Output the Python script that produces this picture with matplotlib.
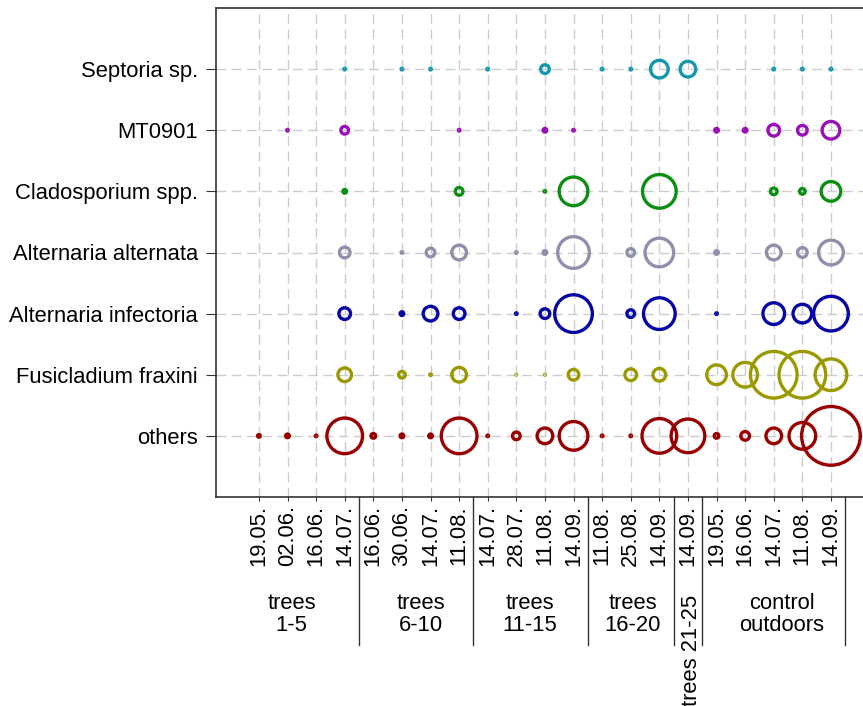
import matplotlib
matplotlib.use("Agg")
from matplotlib import pyplot as plt
import numpy as np

plt.rcParams['font.family'] = ['Liberation Sans', 'DejaVu Sans']

# sampling dates (x axis), grouped by tree set
dates = ["19.05.", "02.06.", "16.06.", "14.07.",
         "16.06.", "30.06.", "14.07.", "11.08.",
         "14.07.", "28.07.", "11.08.", "14.09.",
         "11.08.", "25.08.", "14.09.",
         "14.09.",
         "19.05.", "16.06.", "14.07.", "11.08.", "14.09."]
group_sizes = [4, 4, 4, 3, 1, 5]
group_labels = ["trees\n1-5", "trees\n6-10", "trees\n11-15", "trees\n16-20", "trees 21-25", "control\noutdoors"]

species = ["Septoria sp.", "MT0901", "Cladosporium spp.", "Alternaria alternata",
           "Alternaria infectoria", "Fusicladium fraxini", "others"]
colors = ["#1497ae", "#9a10b8", "#0a8f12", "#9090ab", "#0505a8", "#9a9a00", "#990000"]

N = None
# circle sizes (one value per sampling date, None = not found)
septoria = [N, N, N, 5, N, 5, 5, N, 5, N, 12, N, 5, 5, 21, 19, N, N, 5, 5, 5]
mt0901 = [N, 5, N, 11, N, N, N, 5, N, N, 7, 5, N, N, N, N, 7, 7, 15, 13, 21]
cladosporium = [N, N, N, 7, N, N, N, 11, N, N, 5, 32, N, N, 37, N, N, N, 10, 9, 23]
alt_alternata = [N, N, N, 14, N, 5, 12, 18, N, 5, 7, 35, N, 11, 32, N, 7, N, 18, 13, 28]
alt_infectoria = [N, N, N, 15, N, 7, 18, 15, N, 5, 13, 41, N, 11, 35, N, 5, N, 25, 22, 38]
fusicladium = [N, N, N, 17, N, 10, 5, 18, N, 4, 4, 14, N, 15, 16, N, 23, 28, 50, 50, 35]
others = [6, 7, 5, 39, 8, 7, 7, 39, 5, 11, 19, 32, 5, 5, 38, 37, 8, 12, 19, 30, 62]

series = [septoria, mt0901, cladosporium, alt_alternata, alt_infectoria, fusicladium, others]

dpi = 100
lw = 2.4  # ring width in points
lw_px = lw * dpi / 72

fig = plt.figure(figsize=(8.63, 7.06), dpi=dpi)
ax = fig.add_axes([216 / 863, 209 / 706, 647 / 863, 489 / 706])

x = np.arange(len(dates))
for k, (vals, col) in enumerate(zip(series, colors)):
    yrow = len(species) - k
    xs, ss, fc = [], [], []
    for i, v in enumerate(vals):
        if v is None:
            continue
        d = max(v - lw_px, 0.8) * 72 / dpi
        xs.append(x[i])
        ss.append(d ** 2)
        # small circles close up into dots
        fc.append(col if v < 2 * lw_px + 1 else "none")
    ax.scatter(xs, [yrow] * len(xs), s=ss, facecolors=fc, edgecolors=col,
               linewidths=lw, zorder=3, clip_on=False)

ax.set_xlim(-1.5, 21.12)
ax.set_ylim(0, 8)
ax.set_xticks(x)
ax.set_xticklabels(dates, rotation=90, fontsize=15.8, va="top")
ax.set_yticks(np.arange(len(species), 0, -1))
ax.set_yticklabels(species, fontsize=15.8)
ax.tick_params(axis="x", length=3, pad=3, color="#333333")
ax.tick_params(axis="y", length=7, pad=6, color="#333333")
ax.grid(True, color="#cccccc", linestyle=(0, (7, 4)), linewidth=1.0, zorder=0)
ax.set_axisbelow(True)
for side in ["left", "bottom", "top"]:
    ax.spines[side].set_color("#333333")
    ax.spines[side].set_linewidth(1.2)
ax.spines["right"].set_visible(False)

# group separators and labels under the axis
tr = ax.get_xaxis_transform()
edges = np.cumsum(group_sizes) - 0.5
for e in edges:
    ax.plot([e, e], [0, -0.303], color="#333333", lw=1.0, transform=tr, clip_on=False)

label_x = [1.15, 5.66, 9.48, 13.08, 15.14, 18.29]
for lx, lab in zip(label_x, group_labels):
    if lab == "trees 21-25":
        ax.text(lx, -0.313, lab, rotation=90, ha="center", va="center",
                fontsize=15.8, transform=tr)
    else:
        ax.text(lx, -0.241, lab, ha="center", va="center", fontsize=15.8,
                linespacing=1.05, transform=tr)

fig.savefig("out.png", dpi=dpi)
